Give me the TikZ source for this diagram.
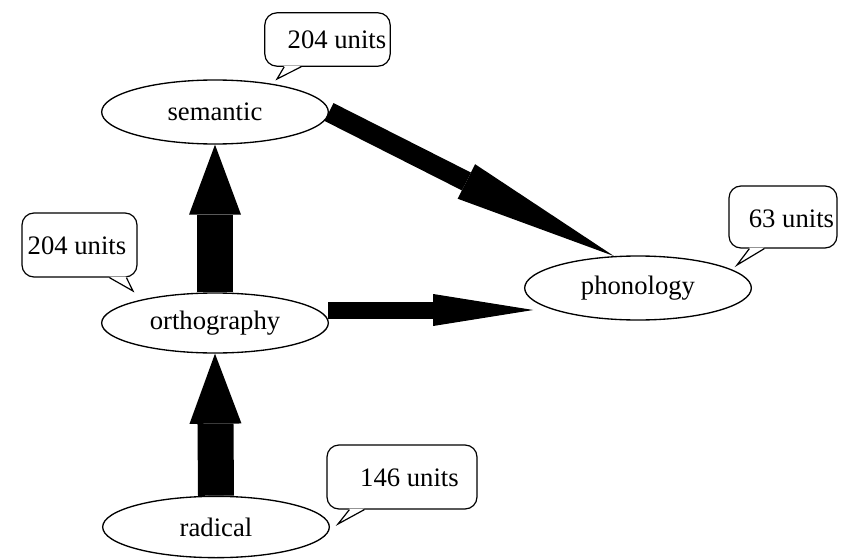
\documentclass[tikz,border=0pt]{standalone}
\usepackage{fontspec}
\setmainfont{Liberation Serif}
\usetikzlibrary{arrows.meta,shapes.geometric,backgrounds,calc}

\tikzset{every picture/.style={line width=0.75pt}}
\tikzset{
  layer/.style={draw, ellipse, fill=white, line width=1pt, inner sep=0pt,
    minimum width=170pt, minimum height=48pt, font=\fontsize{20}{24}\selectfont},
  unitbox/.style={draw, rounded corners=9pt, fill=white, line width=0.9pt, inner sep=0pt},
  unittext/.style={inner sep=0.75pt, font=\fontsize{20}{24}\selectfont},
  fatarrow/.style={line width=27pt, -{Triangle[length=52.5pt,width=39pt,line width=0pt]}},
  longarrow/.style={line width=15pt, -{Triangle[length=124pt,width=29pt,line width=0pt]}},
  flatarrow/.style={line width=12.75pt, -{Triangle[length=75pt,width=24pt,line width=0pt]}},
  tail/.style={line width=0.9pt, line join=miter}
}

\begin{document}
\begin{tikzpicture}[x=0.75pt,y=0.75pt,yscale=-1,xscale=1]
\useasboundingbox (0,0) rectangle (846,560);

%Shape: Ellipse
\node[layer] (sem) at (215,112) {semantic};
%Shape: Ellipse
\node[layer, minimum height=45pt] (orth) at (215,323) {orthography};
%Shape: Ellipse
\node[layer] (phon) at (638,288) {phonology};
%Shape: Ellipse
\node[layer, minimum height=46pt] (rad) at (216,527) {radical};

\coordinate (o2p) at ($(orth.east)+(-1,-13)$);

%Straight Lines
\begin{pgfonlayer}{background}
\draw[fatarrow] (orth.north) -- (sem.south);
\draw[fatarrow] (rad.north) -- (orth.south);
\draw[longarrow] (sem.east) -- (phon.127);
\draw[flatarrow] (o2p) -- (o2p -| phon.187);
\end{pgfonlayer}

%Shape: Callout
\node[unitbox, minimum width=94pt, minimum height=40pt] (semBox) at (327.5,39.5) {};
\coordinate (semTip) at (277,79);
\fill[white] ($(semBox.south west)+(20,-1)$) -- (semTip) -- ($(semBox.south west)+(37,-1)$) -- cycle;
\draw[tail] ($(semBox.south west)+(20,0)$) -- (semTip) -- ($(semBox.south west)+(37,0)$);
% Text Node
\node[unittext] (semUnits) at (337,40) {204 units};

%Shape: Callout
\node[unitbox, minimum width=86.25pt, minimum height=48pt] (orthBox) at (79.5,245) {};
\coordinate (orthTip) at (133,291);
\fill[white] ($(orthBox.south west)+(88,-1)$) -- (orthTip) -- ($(orthBox.south west)+(105,-1)$) -- cycle;
\draw[tail] ($(orthBox.south west)+(88,0)$) -- (orthTip) -- ($(orthBox.south west)+(105,0)$);
% Text Node
\node[unittext] (orthUnits) at (77,246) {204 units};

%Shape: Callout
\node[unitbox, minimum width=81pt, minimum height=46.5pt] (phonBox) at (783,217) {};
\coordinate (phonTip) at (737,265);
\fill[white] ($(phonBox.south west)+(21,-1)$) -- (phonTip) -- ($(phonBox.south west)+(36,-1)$) -- cycle;
\draw[tail] ($(phonBox.south west)+(21,0)$) -- (phonTip) -- ($(phonBox.south west)+(36,0)$);
% Text Node
\node[unittext] (phonUnits) at (791.5,219) {63 units};

%Shape: Callout
\node[unitbox, minimum width=112.5pt, minimum height=48pt] (radBox) at (402,477) {};
\coordinate (radTip) at (338,524);
\fill[white] ($(radBox.south west)+(23,-1)$) -- (radTip) -- ($(radBox.south west)+(38,-1)$) -- cycle;
\draw[tail] ($(radBox.south west)+(23,0)$) -- (radTip) -- ($(radBox.south west)+(38,0)$);
% Text Node
\node[unittext] (radUnits) at (409.5,478) {146 units};

\end{tikzpicture}
\end{document}
